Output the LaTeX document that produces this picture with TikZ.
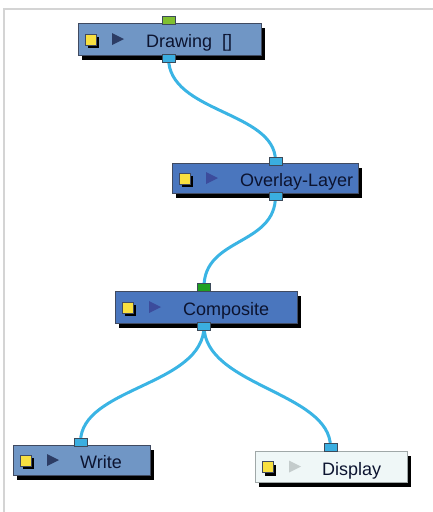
\documentclass[tikz,border=0pt]{standalone}
\usepackage{fontspec}
\setmainfont{Liberation Sans}
\usetikzlibrary{shapes.misc}
\definecolor{framecol}{HTML}{D4D4D4}
\definecolor{lightfill}{HTML}{7096C5}
\definecolor{darkfill}{HTML}{4A76BE}
\definecolor{dispfill}{HTML}{EFF7F7}
\definecolor{dispedge}{HTML}{A0A8A8}
\definecolor{boxedge}{HTML}{404A60}
\definecolor{tridark}{HTML}{2C3C64}
\definecolor{triblue}{HTML}{3C4C9C}
\definecolor{trigrey}{HTML}{C4CCCC}
\definecolor{portblue}{HTML}{3AAEE0}
\definecolor{portedge}{HTML}{3C4A5A}
\definecolor{greenA}{HTML}{80C030}
\definecolor{greenB}{HTML}{20A020}
\definecolor{wirecol}{HTML}{3AB4E4}
\definecolor{txtcol}{HTML}{0C1430}
\definecolor{yel}{HTML}{F8E040}
\pgfdeclarelayer{bg}
\pgfsetlayers{bg,main}
\tikzset{
  box/.style={draw=boxedge, line width=0.8pt, inner sep=0pt, rectangle},
  dispbox/.style={draw=dispedge, fill=dispfill, chamfered rectangle, chamfered rectangle xsep=4pt, chamfered rectangle ysep=4pt, chamfered rectangle corners={north west,north east}},
  lbl/.style={font=\fontsize{18}{20}\selectfont, text=txtcol, inner sep=0pt, anchor=base west},
  port/.style={draw=portedge, line width=0.8pt, fill=portblue, minimum width=13pt, minimum height=8pt, inner sep=0pt},
  wire/.style={draw=wirecol, line width=3pt},
}
\newcommand\harmbox[9]{%
  \fill[black] (#2+4,#3+5) rectangle (#4+4,#5+5);
  \node[box,#6,minimum width={#4pt-#2pt},minimum height={#5pt-#3pt}] (#1) at ({(#2+#4)/2},{(#3+#5)/2}) {};
  \fill[black] (#2+10,{(#3+#5)/2-2}) rectangle (#2+21,{(#3+#5)/2+9});
  \filldraw[fill=yel,draw=boxedge,line width=0.5pt] (#2+7,{(#3+#5)/2-5}) rectangle (#2+18,{(#3+#5)/2+6});
  \fill[#7] (#2+34,{(#3+#5)/2-6}) -- (#2+46,{(#3+#5)/2}) -- (#2+34,{(#3+#5)/2+6}) -- cycle;
  \node[lbl] (#1-t) at (#9,{(#3+#5)/2+8.5}) {#8};
}
\begin{document}
\begin{tikzpicture}[x=1pt,y=-1pt]
\useasboundingbox (0,0) rectangle (433,512);
\draw[framecol, line width=2pt] (433,8.5) -- (4,8.5) -- (4,512);

\harmbox{drawing}{78}{23}{261}{55}{fill=lightfill}{tridark}{Drawing\ \ []}{146}
\harmbox{overlay}{172}{163}{358}{193}{fill=darkfill}{triblue}{Overlay-Layer}{240}
\harmbox{composite}{115}{291}{297}{323}{fill=darkfill}{triblue}{Composite}{183}
\harmbox{write}{13}{445}{150}{475}{fill=lightfill}{tridark}{Write}{80}
\harmbox{display}{255}{451}{407}{482}{dispbox}{trigrey}{Display}{322}

\node[port, fill=greenA] (drawing-in) at (168.5,20) {};
\node[port] (drawing-out) at (168.5,58) {};
\node[port] (overlay-in) at (275.5,161) {};
\node[port] (overlay-out) at (275.5,196) {};
\node[port, fill=greenB] (composite-in) at (204,287) {};
\node[port] (composite-out) at (204,326) {};
\node[port] (write-in) at (80.5,442) {};
\node[port] (display-in) at (330.5,447) {};

\begin{pgfonlayer}{bg}
\draw[wire] (drawing-out.center) .. controls +(0,55) and +(0,-50) .. (overlay-in.center);
\draw[wire] (overlay-out.center) .. controls +(0,50) and +(0,-50) .. (composite-in.center);
\draw[wire] (composite-out.center) .. controls +(0,60) and +(0,-55) .. (write-in.center);
\draw[wire] (composite-out.center) .. controls +(0,60) and +(0,-55) .. (display-in.center);
\end{pgfonlayer}
\end{tikzpicture}
\end{document}
